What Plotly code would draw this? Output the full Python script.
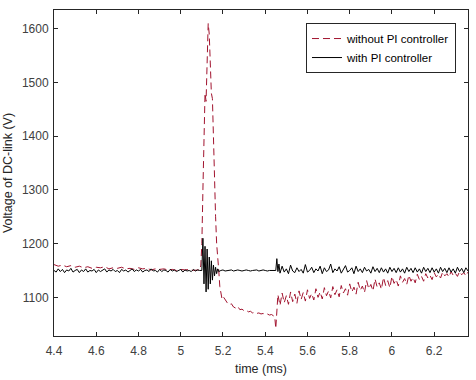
import numpy as np
import plotly.graph_objects as go

# ---------------- data ----------------
# "with PI controller" (black) -- segments: (start time, step, values)
pi_seg1_start, pi_seg1_step = 4.40, 0.01
pi_seg1 = [1150,1147,1153,1148,1152,1146,1151,1149,1154,1147,
           1150,1152,1146,1151,1148,1153,1147,1150,1149,1152,
           1146,1151,1148,1150,1153,1147,1151,1149,1152,1148,
           1150,1146,1152,1149,1151,1147,1150,1153,1148,1151,
           1149,1152,1147,1150,1151,1148,1153,1149,1150,1147,
           1152,1148,1151,1150,1147,1152,1149,1151,1148,1150,
           1152,1147,1151,1149,1150,1148,1152,1149,1151,1150]
pi_seg2_start, pi_seg2_step = 5.10, 0.005
pi_seg2 = [1150,1210,1125,1195,1110,1190,1115,1175,1125,1168,1132,1160,1140,1156,1144,1153,1148]
pi_seg3_start, pi_seg3_step = 5.19, 0.01
pi_seg3 = [1150,1151,1149,1150,1150,1151,1149,1150,1151,1150,1149,1150,1151,1150,
           1149,1150,1150,1151,1149,1150,1151,1150,1149,1150,1150,1151,1150]
pi_seg4_start, pi_seg4_step = 5.455, 0.005
pi_seg4 = [1172,1148,1162]
pi_seg5_start, pi_seg5_step = 5.47, 0.01
pi_seg5 = [1145,1158,1147,1153,1144,1160,1149,1146,1155,1148,
           1152,1145,1161,1147,1150,1156,1146,1153,1149,1158,
           1144,1155,1148,1151,1162,1146,1153,1149,1157,1145,
           1152,1159,1147,1150,1155,1144,1158,1148,1153,1146,
           1156,1149,1152,1145,1157,1148,1154,1146,1155,1147,
           1153,1145,1156,1148,1154,1146,1155,1147,1153,1145,
           1156,1148,1154,1146,1155,1147,1153,1145,1156,1148,
           1154,1146,1155,1147,1153,1145,1156,1148,1154,1146,
           1155,1147,1153,1145,1156,1148,1154,1146,1155,1149]

# "without PI controller" (red dashed)
nopi_seg1_start, nopi_seg1_step = 4.40, 0.02
nopi_seg1 = [1161,1158,1160,1157,1159,1156,1158,1155,1157,1154,1156,1155,1157,1153,1155,1154,1156,1153,
             1154,1152,1155,1153,1154,1151,1153,1152,1153,1151,1152,1150,1152,1151,1152,1150,1151]
nopi_seg2_start, nopi_seg2_step = 5.09, 0.005
nopi_seg2 = [1151,1160,1200,1300,1400,1480,1465,1560,1610,1590,1530,1480,1470,1380,1300,1250,
             1200,1180,1150,1120,1110,1098,1102]
nopi_seg3_start, nopi_seg3_step = 5.21, 0.01
nopi_seg3 = [1095,1090,1086,1088,1082,1080,1083,1077,1078,1075,1076,1073,1074,1071,1072,1070,
             1071,1069,1070,1068,1069,1067,1068,1066]
nopi_seg4_start, nopi_seg4_step = 5.445, 0.005
nopi_seg4 = [1064,1042,1070,1105]
nopi_seg5_start, nopi_seg5_step = 5.47, 0.01
nopi_seg5 = [1085,1108,1090,1103,1087,1110,1092,1106,1089,1112,
             1096,1109,1093,1114,1098,1107,1095,1116,1100,1110,
             1097,1118,1103,1112,1099,1120,1105,1114,1101,1122,
             1108,1116,1104,1125,1110,1119,1106,1128,1113,1121,
             1109,1131,1116,1124,1112,1134,1119,1127,1115,1137,
             1122,1131,1118,1139,1126,1133,1121,1140,1128,1135,
             1124,1141,1130,1137,1127,1143,1133,1139,1130,1144,
             1136,1141,1133,1146,1138,1143,1136,1147,1140,1144,
             1138,1148,1141,1145,1139,1148,1142,1146,1140,1147]

x_ticks = [4.4, 4.6, 4.8, 5.0, 5.2, 5.4, 5.6, 5.8, 6.0, 6.2]
x_tick_labels = ["4.4", "4.6", "4.8", "5", "5.2", "5.4", "5.6", "5.8", "6", "6.2"]
y_ticks = [1100, 1200, 1300, 1400, 1500, 1600]
y_tick_labels = ["1100", "1200", "1300", "1400", "1500", "1600"]


def build(segs):
    t, v = [], []
    for start, step, vals in segs:
        t.extend(start + step * np.arange(len(vals)))
        v.extend(vals)
    return t, v


t_pi, v_pi = build([(pi_seg1_start, pi_seg1_step, pi_seg1), (pi_seg2_start, pi_seg2_step, pi_seg2),
                    (pi_seg3_start, pi_seg3_step, pi_seg3), (pi_seg4_start, pi_seg4_step, pi_seg4),
                    (pi_seg5_start, pi_seg5_step, pi_seg5)])
t_no, v_no = build([(nopi_seg1_start, nopi_seg1_step, nopi_seg1), (nopi_seg2_start, nopi_seg2_step, nopi_seg2),
                    (nopi_seg3_start, nopi_seg3_step, nopi_seg3), (nopi_seg4_start, nopi_seg4_step, nopi_seg4),
                    (nopi_seg5_start, nopi_seg5_step, nopi_seg5)])

# ---------------- figure ----------------
fig = go.Figure()
fig.add_trace(go.Scatter(x=t_no, y=v_no, mode="lines", name="without PI controller",
                         line=dict(color="#A2142F", width=1, dash="7px,4px")))
fig.add_trace(go.Scatter(x=t_pi, y=v_pi, mode="lines", name="with PI controller",
                         line=dict(color="#000000", width=1)))

axis_common = dict(showline=True, linecolor="#262626", linewidth=1, mirror="ticks",
                   ticks="inside", ticklen=4, tickcolor="#262626", showgrid=False, zeroline=False,
                   tickfont=dict(family="Liberation Sans, Arial", size=12, color="#404040"))

fig.update_layout(
    width=476, height=380,
    margin=dict(l=53, r=7, t=10, b=43),
    paper_bgcolor="white", plot_bgcolor="white",
    font=dict(family="Liberation Sans, Arial", size=12, color="#262626"),
    xaxis=dict(range=[4.4, 6.36], tickvals=x_ticks, ticktext=x_tick_labels, ticklabelstandoff=4,
               title=dict(text="time (ms)", standoff=6, font=dict(size=12.5)), **axis_common),
    yaxis=dict(range=[1028, 1635], tickvals=y_ticks, ticktext=y_tick_labels, ticklabelstandoff=2,
               title=dict(text="Voltage of DC-link (V)", standoff=6, font=dict(size=12.5)), **axis_common),
    legend=dict(x=0.971, y=0.96, xanchor="right", yanchor="top", bgcolor="white",
                bordercolor="#262626", borderwidth=1, font=dict(size=11.5, color="#000000"),
                tracegroupgap=0),
    showlegend=True,
)

fig.write_html("out.html")
